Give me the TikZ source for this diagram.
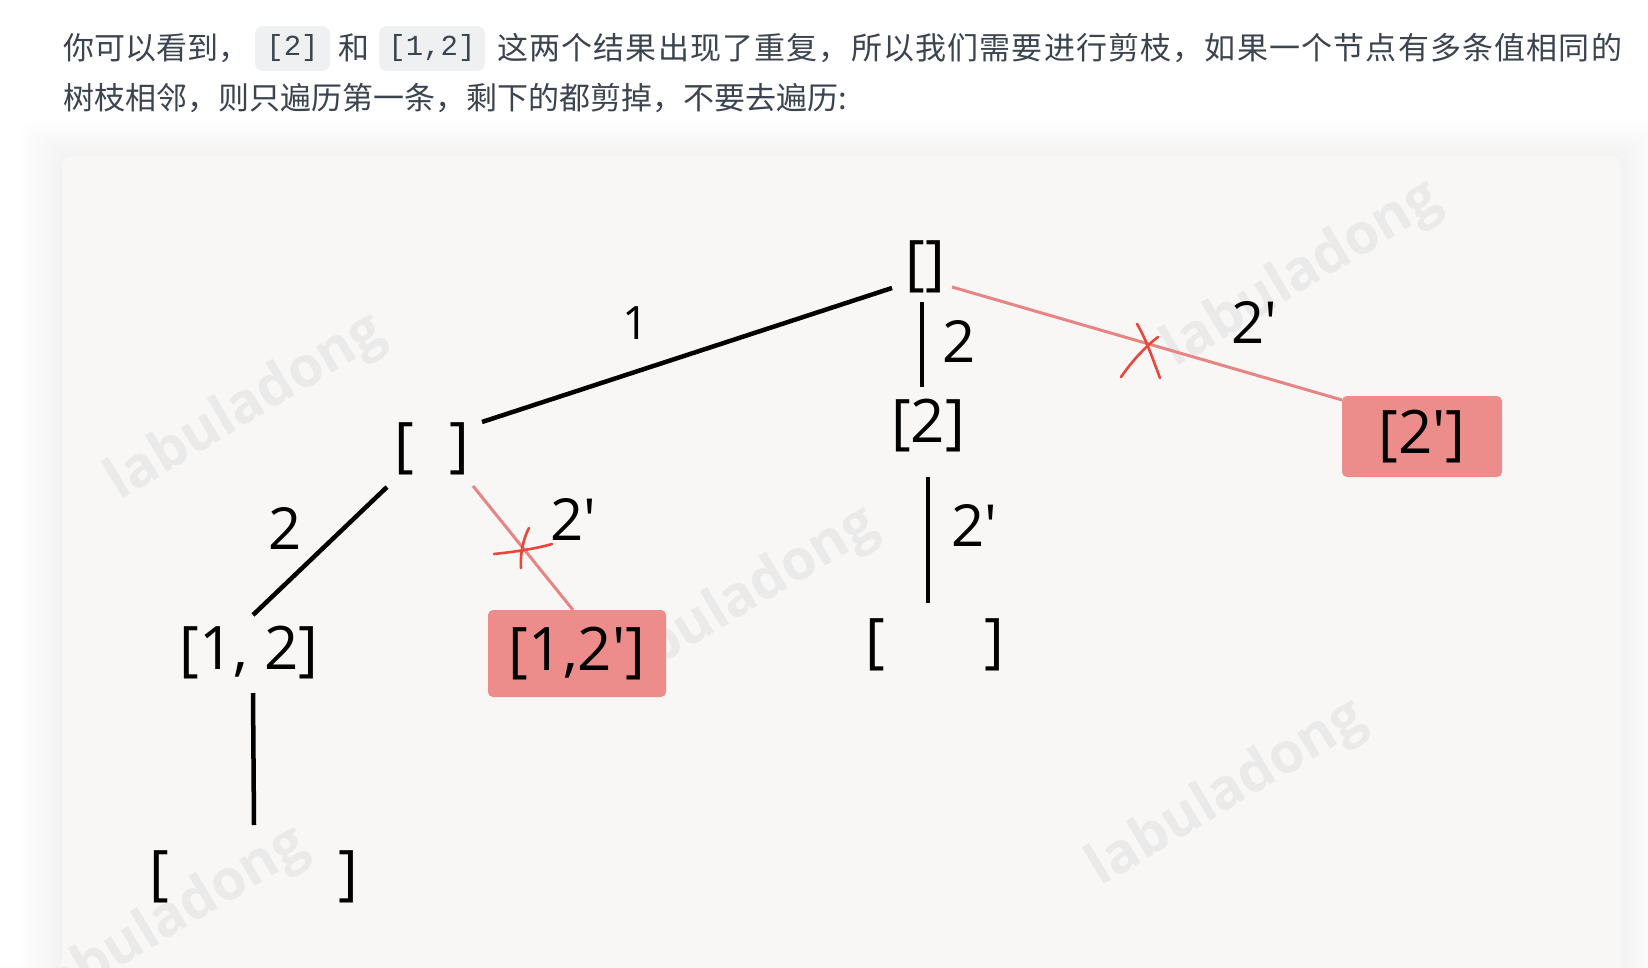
\documentclass[tikz,border=0pt]{standalone}
\usepackage{fontspec}
\setmainfont{Open Sans}
\newfontfamily\cjkfont{Noto Sans CJK SC}
\newfontfamily\codefont{Liberation Mono}
\usetikzlibrary{calc}
\definecolor{txt}{RGB}{60,68,80}
\definecolor{chipbg}{RGB}{239,240,241}
\definecolor{paper}{RGB}{248,247,245}
\definecolor{boxred}{RGB}{236,141,139}
\definecolor{edgered}{RGB}{231,132,132}
\definecolor{xred}{RGB}{232,72,60}
\definecolor{wm}{RGB}{234,234,234}
\def\spreadchars#1{\ifx\relax#1\else#1\hfil\expandafter\spreadchars\fi}
\begin{document}
\begin{tikzpicture}[x=1pt,y=-1pt,
  nd/.style={inner sep=0pt, outer sep=0pt, font=\fontsize{60}{60}\selectfont},
  lbl/.style={inner sep=0pt, font=\fontsize{58}{58}\selectfont},
  cutbox/.style={nd, fill=boxred, rounded corners=5pt},
  edge/.style={line width=4.5pt, black},
  prune/.style={line width=3pt, edgered},
  xmark/.style={line width=2.6pt, xred, line cap=round},
  cjk/.style={inner sep=0pt, anchor=base west, text=txt, font=\cjkfont\fontsize{31}{31}\selectfont},
  chip/.style={fill=chipbg, rounded corners=8pt, inner sep=0pt, text=txt, font=\codefont\fontsize{29}{29}\selectfont},
  wmark/.style={text=wm, rotate=31, inner sep=0pt, font=\bfseries\fontsize{56}{56}\selectfont}
]
\useasboundingbox (0,0) rectangle (1648,968);
\fill[white] (0,0) rectangle (1648,968);

% card shadow
\foreach \i in {1,...,12}
  \fill[black, opacity=0.004, rounded corners=12pt]
    ({62-3.5*\i},{156-3*\i}) rectangle ({1621+3.5*\i},{1000});
% card
\fill[paper, rounded corners=10pt] (62,156) rectangle (1621,1000);

% watermarks
\begin{scope}
  \clip[rounded corners=10pt] (62,156) rectangle (1621,1000);
  \node[wmark] (w1) at (246,408) {labuladong};
  \node[wmark] (w2) at (1302,275) {labuladong};
  \node[wmark] (w3) at (739,601) {labuladong};
  \node[wmark] (w4) at (1227,794) {labuladong};
  \node[wmark] (w5) at (169,921) {labuladong};
\end{scope}

% paragraph text
\node[cjk] (t1) at (63,60) {你可以看到，};
\node[chip, minimum width=75pt, minimum height=45pt] (c1) at (292.5,48.5) {[2]};
\node[cjk] (t2) at (338,60) {和};
\node[chip, minimum width=106pt, minimum height=45pt] (c2) at (432,48.5) {[1,2]};
\node[cjk] (t3) at (497,60) {\makebox[1126pt][s]{\spreadchars 这两个结果出现了重复，所以我们需要进行剪枝，如果一个节点有多条值相同的\relax}};
\node[cjk] (t4) at (63,110) {树枝相邻，则只遍历第一条，剩下的都剪掉，不要去遍历:};

% tree nodes
\node[nd] (R) at (925,267) {[]};
\node[nd] (A) at (928,426) {[2]};
\node[cutbox, minimum width=160pt, minimum height=81pt] (B) at (1422,436.5) {[2\textquotesingle]};
\node[nd] (L) at (432,449) {[\hspace{36pt}]};
\node[cutbox, minimum width=178pt, minimum height=87pt] (C) at (577,653.5) {[1,2\textquotesingle]};
\node[nd] (D) at (249,653) {[1, 2]};
\node[nd] (E) at (254,877) {[\hspace{170pt}]};
\node[nd] (F) at (935,645) {[\hspace{100pt}]};

% connectors
\draw[edge] ($(L)+(50,-27)$) -- ($(R)+(-33,21)$);
\draw[edge] ($(R)+(-3,35)$) -- ($(A)+(-6,-39)$);
\draw[prune] ($(R)+(27,20)$) -- ($(B)+(-80,-36.5)$);
\draw[edge] ($(L)+(-45,38)$) -- ($(D)+(4,-38)$);
\draw[prune] ($(L)+(41,37)$) -- ($(C)+(-4,-43.5)$);
\draw[edge] ($(D)+(4,40)$) -- ($(E)+(0,-52)$);
\draw[edge] ($(A)+(0,51)$) -- ($(F)+(-7,-42)$);

% edge labels
\node[lbl, font=\fontsize{46}{46}\selectfont] (l1) at (636,323) {1};
\node[lbl] (l2) at (959,341) {2};
\node[lbl] (l3) at (1254,322) {2\textquotesingle};
\node[lbl] (l4) at (285,528) {2};
\node[lbl] (l5) at (573,519) {2\textquotesingle};
\node[lbl] (l6) at (974,525) {2\textquotesingle};

% prune marks
\coordinate (x1) at (1142,343);
\draw[xmark] ($(x1)+(-21,34)$) .. controls ($(x1)+(-10,18)$) and ($(x1)+(4,3)$) .. ($(x1)+(16,-6)$);
\draw[xmark] ($(x1)+(-5,-19)$) .. controls ($(x1)+(4,-4)$) and ($(x1)+(10,14)$) .. ($(x1)+(18,35)$);
\coordinate (x2) at (523,551);
\draw[xmark] ($(x2)+(-29,3)$) .. controls ($(x2)+(-10,1)$) and ($(x2)+(12,-2)$) .. ($(x2)+(29,-7)$);
\draw[xmark] ($(x2)+(6,-23)$) .. controls ($(x2)+(0,-12)$) and ($(x2)+(-3,4)$) .. ($(x2)+(-2,17)$);
\end{tikzpicture}
\end{document}
